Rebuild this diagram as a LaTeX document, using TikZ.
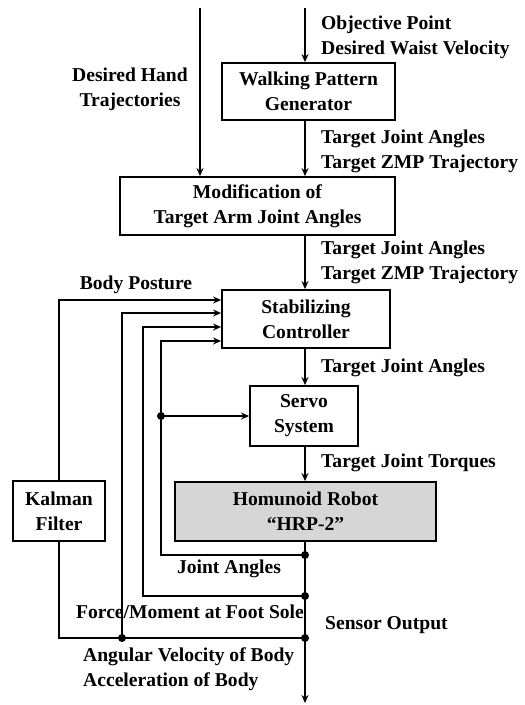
\documentclass[tikz,border=0pt]{standalone}
\usepackage{fontspec}
\setmainfont{Liberation Serif}
\usetikzlibrary{arrows.meta}
\begin{document}
\begin{tikzpicture}[x=1pt,y=-1pt,
  every node/.style={font=\fontsize{19.6}{25}\selectfont\bfseries},
  blk/.style={draw, line width=1.8pt, inner sep=0pt, align=center},
  lbl/.style={align=left, inner sep=0pt},
  conn/.style={line width=1.8pt},
  arr/.style={conn, -{Stealth[length=8pt,width=7pt]}},
  jdot/.style={circle, fill, inner sep=0pt, minimum size=8pt}]
\useasboundingbox (0,0) rectangle (525,705);
% blocks
\node[blk, minimum width=173pt, minimum height=57pt] (wpg) at (308.5,91.5) {Walking Pattern\\Generator};
\node[blk, minimum width=275pt, minimum height=58pt] (mod) at (257.5,206) {Modification of\\Target Arm Joint Angles};
\node[blk, minimum width=168pt, minimum height=58pt] (stab) at (306,319) {Stabilizing\\Controller};
\node[blk, minimum width=108pt, minimum height=60pt] (servo) at (304,416) {Servo\\System};
\node[blk, minimum width=92pt, minimum height=60pt] (kal) at (59,511) {Kalman\\Filter};
\node[blk, fill=black!16, minimum width=261pt, minimum height=59pt] (robot) at (305.5,511.5) {Homunoid Robot\\“HRP-2”};
% free ends and corners
\coordinate (top1) at (305,8);
\coordinate (top2) at (200,8);
\coordinate (out) at (305,703);
\coordinate (c1) at (161,555);
\coordinate (c2) at (143,596);
% junctions
\node[jdot] (j1) at (305,555) {};
\node[jdot] (j2) at (305,596) {};
\node[jdot] (j3) at (305,638) {};
\node[jdot] (jk) at (122,638) {};
\node[jdot] (js) at (161,416) {};
% main chain
\draw[arr] (top1) -- (top1 |- wpg.north);
\draw[arr] (top2) -- (top2 |- mod.north);
\draw[arr] (wpg.south -| top1) -- (mod.north -| top1);
\draw[arr] (mod.south -| top1) -- (stab.north -| top1);
\draw[arr] (stab.south -| top1) -- (servo.north -| top1);
\draw[arr] (servo.south -| top1) -- (robot.north -| top1);
\draw[arr] (robot.south -| top1) -- (out);
% feedback
\draw[arr] (kal.north) |- ([yshift=19pt]stab.west);
\draw[arr] (jk.center) |- ([yshift=6pt]stab.west);
\draw[arr] (j2.center) -- (c2) |- ([yshift=-8pt]stab.west);
\draw[arr] (j1.center) -- (c1) |- ([yshift=-22pt]stab.west);
\draw[arr] (js.center) -- (servo.west |- js);
\draw[conn] (j3.center) -| (kal.south);
% labels
\node[lbl, anchor=west] (l1) at (321,37.5) {Objective Point\\Desired Waist Velocity};
\node[align=center, inner sep=0pt] (l2) at (130,89) {Desired Hand\\Trajectories};
\node[lbl, anchor=west] (l3) at (321,151) {Target Joint Angles\\Target ZMP Trajectory};
\node[lbl, anchor=west] (l4) at (321,262) {Target Joint Angles\\Target ZMP Trajectory};
\node[inner sep=0pt] (l5) at (136,285) {Body Posture};
\node[lbl, anchor=west] (l6) at (321,368) {Target Joint Angles};
\node[lbl, anchor=west] (l7) at (321,463) {Target Joint Torques};
\node[inner sep=0pt] (l8) at (229,569) {Joint Angles};
\node[inner sep=0pt] (l9) at (190,612) {Force/Moment at Foot Sole};
\node[lbl, anchor=west] (l10) at (325,625) {Sensor Output};
\node[lbl, anchor=west] (l11) at (83,669) {Angular Velocity of Body\\Acceleration of Body};
\end{tikzpicture}
\end{document}
